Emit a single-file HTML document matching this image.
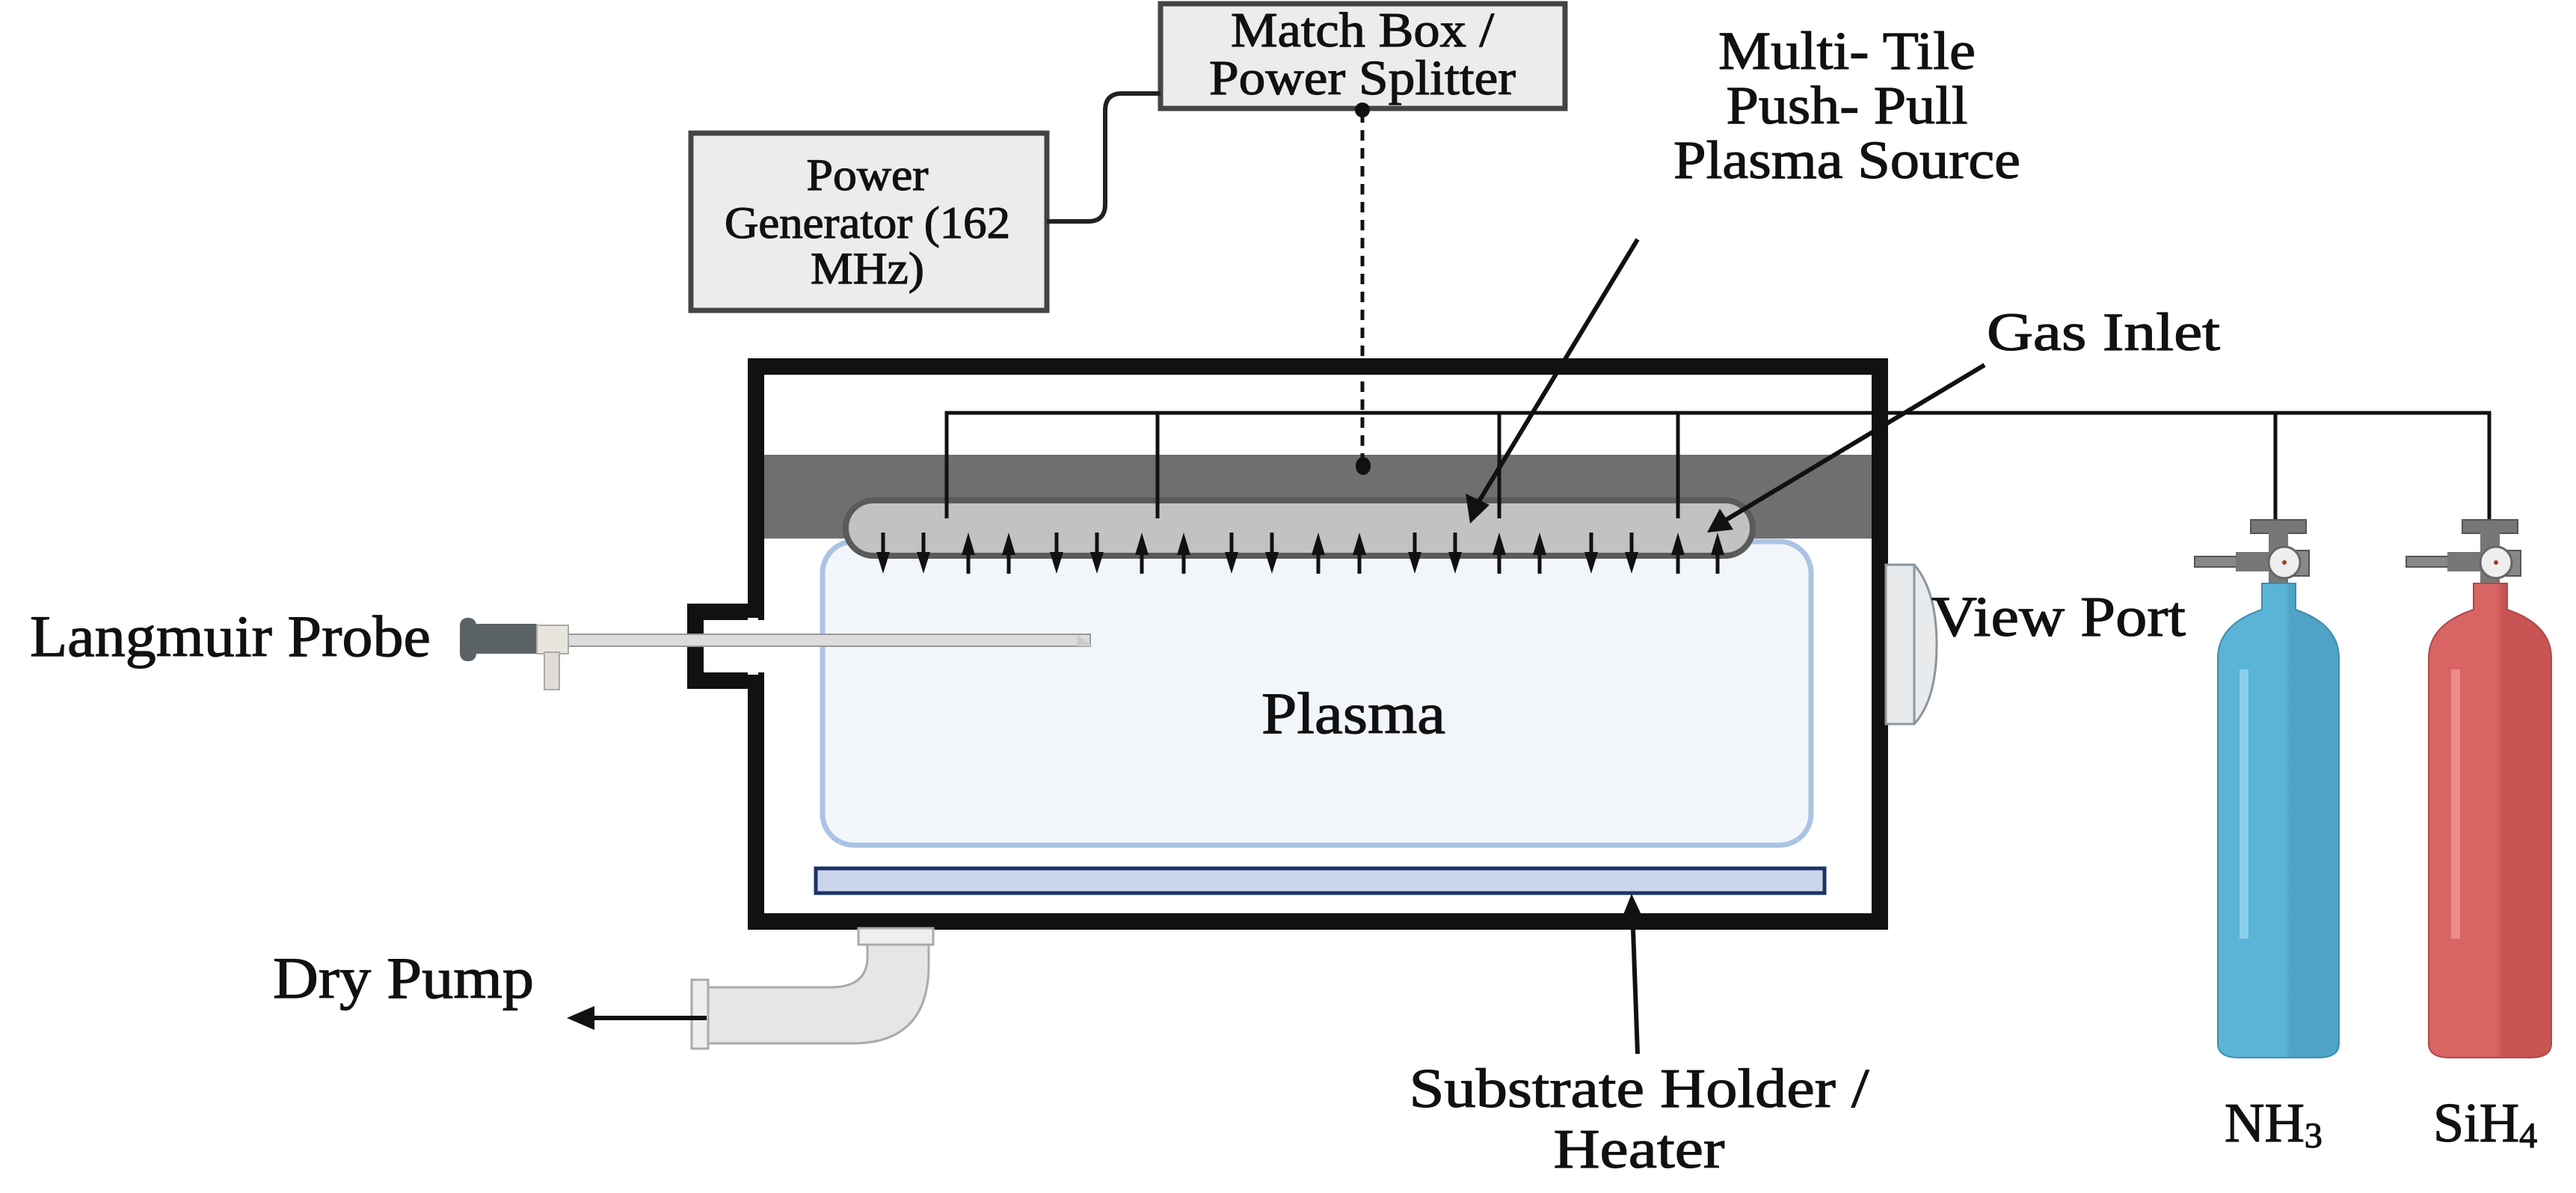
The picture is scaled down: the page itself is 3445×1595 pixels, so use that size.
<!DOCTYPE html>
<html><head><meta charset="utf-8"><style>
html,body{margin:0;padding:0;background:#fff}
svg{display:block}
text{font-family:"Liberation Serif",serif;fill:#111;stroke:#111;stroke-width:1.2}
</style></head><body>
<svg width="3445" height="1595" viewBox="0 0 3445 1595" xmlns="http://www.w3.org/2000/svg">
<defs>
<linearGradient id="blue" x1="0" x2="1"><stop offset="0" stop-color="#5ab4d6"/><stop offset="0.55" stop-color="#5ab4d6"/><stop offset="0.6" stop-color="#4fa3c4"/><stop offset="1" stop-color="#4fa3c4"/></linearGradient>
<linearGradient id="red" x1="0" x2="1"><stop offset="0" stop-color="#d96464"/><stop offset="0.55" stop-color="#d96464"/><stop offset="0.6" stop-color="#c85454"/><stop offset="1" stop-color="#c85454"/></linearGradient>
</defs>

<!-- boxes -->
<rect x="924" y="178" width="476" height="237" fill="#ececec" stroke="#444" stroke-width="7"/>
<rect x="1552" y="5" width="541" height="140" fill="#ececec" stroke="#444" stroke-width="7"/>
<path d="M1400,296 H1455 Q1478,296 1478,273 V148 Q1478,125 1500,125 H1552" fill="none" stroke="#222" stroke-width="6"/>
<text x="1160" y="254" font-size="60" text-anchor="middle" textLength="163" lengthAdjust="spacingAndGlyphs">Power</text>
<text x="1160" y="318" font-size="60" text-anchor="middle" textLength="382" lengthAdjust="spacingAndGlyphs">Generator (162</text>
<text x="1160" y="379" font-size="60" text-anchor="middle" textLength="152" lengthAdjust="spacingAndGlyphs">MHz)</text>
<text x="1822" y="62" font-size="66" text-anchor="middle" textLength="352" lengthAdjust="spacingAndGlyphs">Match Box /</text>
<text x="1822" y="126" font-size="66" text-anchor="middle" textLength="410" lengthAdjust="spacingAndGlyphs">Power Splitter</text>
<text x="2470" y="92" font-size="72" text-anchor="middle" textLength="344" lengthAdjust="spacingAndGlyphs">Multi- Tile</text>
<text x="2470" y="165" font-size="72" text-anchor="middle" textLength="323" lengthAdjust="spacingAndGlyphs">Push- Pull</text>
<text x="2470" y="238" font-size="72" text-anchor="middle" textLength="464" lengthAdjust="spacingAndGlyphs">Plasma Source</text>
<text x="2813" y="468" font-size="72" text-anchor="middle" textLength="312" lengthAdjust="spacingAndGlyphs">Gas Inlet</text>

<!-- chamber -->
<path d="M1011,490 H2514 V1232 H1011 V910 H930 V818 H1011 Z" fill="#fff" stroke="#111" stroke-width="22" stroke-linejoin="miter"/>
<rect x="1000" y="826" width="14" height="76" fill="#fff"/>
<rect x="1022" y="608" width="1481" height="112" fill="#6f6f6f"/>
<rect x="1100" y="724" width="1322" height="406" rx="42" fill="#f2f5fa" stroke="#abc3e3" stroke-width="7"/>
<rect x="1131" y="669" width="1213" height="74" rx="37" fill="#c2c2c2" stroke="#5a5a5a" stroke-width="8"/>
<rect x="1091" y="1161" width="1349" height="33" fill="#ccd6ea" stroke="#1c3366" stroke-width="5"/>

<!-- view port -->
<path d="M2522,755 H2560 Q2590,790 2590,862 Q2590,935 2560,968 H2522 Z" fill="#e9eaec" stroke="#8a96a0" stroke-width="3"/>
<line x1="2560" y1="755" x2="2560" y2="968" stroke="#8a96a0" stroke-width="3"/>
<text x="2583" y="850" font-size="76" textLength="340" lengthAdjust="spacingAndGlyphs">View Port</text>

<!-- gas line -->
<path d="M1266,693 V552 H3329 V697" fill="none" stroke="#111" stroke-width="5"/>
<path d="M1548,552 V693 M2005,552 V693 M2244,552 V693 M3043,552 V697" fill="none" stroke="#111" stroke-width="5"/>

<!-- dotted -->
<line x1="1822" y1="150" x2="1822" y2="615" stroke="#111" stroke-width="5" stroke-dasharray="14,10"/>
<circle cx="1822" cy="147" r="10" fill="#111"/>
<ellipse cx="1823" cy="623" rx="10" ry="12" fill="#111"/>

<!-- push-pull arrows -->
<g stroke="#111" stroke-width="5" fill="#111">
<line x1="1181" y1="712" x2="1181" y2="745"/><path d="M1172,738 L1190,738 L1181,767Z" stroke="none"/>
<line x1="1235" y1="712" x2="1235" y2="745"/><path d="M1226,738 L1244,738 L1235,767Z" stroke="none"/>
<line x1="1295" y1="735" x2="1295" y2="767"/><path d="M1286,742 L1304,742 L1295,712Z" stroke="none"/>
<line x1="1349" y1="735" x2="1349" y2="767"/><path d="M1340,742 L1358,742 L1349,712Z" stroke="none"/>
<line x1="1413" y1="712" x2="1413" y2="745"/><path d="M1404,738 L1422,738 L1413,767Z" stroke="none"/>
<line x1="1467" y1="712" x2="1467" y2="745"/><path d="M1458,738 L1476,738 L1467,767Z" stroke="none"/>
<line x1="1527" y1="735" x2="1527" y2="767"/><path d="M1518,742 L1536,742 L1527,712Z" stroke="none"/>
<line x1="1583" y1="735" x2="1583" y2="767"/><path d="M1574,742 L1592,742 L1583,712Z" stroke="none"/>
<line x1="1647" y1="712" x2="1647" y2="745"/><path d="M1638,738 L1656,738 L1647,767Z" stroke="none"/>
<line x1="1701" y1="712" x2="1701" y2="745"/><path d="M1692,738 L1710,738 L1701,767Z" stroke="none"/>
<line x1="1763" y1="735" x2="1763" y2="767"/><path d="M1754,742 L1772,742 L1763,712Z" stroke="none"/>
<line x1="1818" y1="735" x2="1818" y2="767"/><path d="M1809,742 L1827,742 L1818,712Z" stroke="none"/>
<line x1="1892" y1="712" x2="1892" y2="745"/><path d="M1883,738 L1901,738 L1892,767Z" stroke="none"/>
<line x1="1946" y1="712" x2="1946" y2="745"/><path d="M1937,738 L1955,738 L1946,767Z" stroke="none"/>
<line x1="2005" y1="735" x2="2005" y2="767"/><path d="M1996,742 L2014,742 L2005,712Z" stroke="none"/>
<line x1="2059" y1="735" x2="2059" y2="767"/><path d="M2050,742 L2068,742 L2059,712Z" stroke="none"/>
<line x1="2128" y1="712" x2="2128" y2="745"/><path d="M2119,738 L2137,738 L2128,767Z" stroke="none"/>
<line x1="2182" y1="712" x2="2182" y2="745"/><path d="M2173,738 L2191,738 L2182,767Z" stroke="none"/>
<line x1="2244" y1="735" x2="2244" y2="767"/><path d="M2235,742 L2253,742 L2244,712Z" stroke="none"/>
<line x1="2297" y1="735" x2="2297" y2="767"/><path d="M2288,742 L2306,742 L2297,712Z" stroke="none"/>
</g>

<!-- pointers -->
<g stroke="#111" stroke-width="6" fill="none">
<line x1="2190" y1="320" x2="1975" y2="675"/>
<line x1="2654" y1="488" x2="2300" y2="700"/>
<line x1="2190" y1="1409" x2="2183" y2="1215"/>
</g>
<path d="M1966,700 L1960,660 L1992,675 Z" fill="#111"/>
<path d="M2283,712 L2300,680 L2318,708 Z" fill="#111"/>
<path d="M2182,1195 L2170,1225 L2196,1225 Z" fill="#111"/>

<text x="1810" y="980" font-size="78" text-anchor="middle" textLength="246" lengthAdjust="spacingAndGlyphs">Plasma</text>

<!-- probe -->
<rect x="738" y="848" width="720" height="16" fill="#dcdcdc" stroke="#999" stroke-width="2"/>
<path d="M1440,848 L1462,864 L1440,864Z" fill="#ccc"/>
<rect x="615" y="826" width="22" height="58" rx="10" fill="#5b6265"/>
<rect x="632" y="834" width="90" height="40" rx="6" fill="#5b6265"/>
<rect x="718" y="836" width="42" height="38" fill="#e8e4de" stroke="#aaa" stroke-width="2"/>
<rect x="728" y="872" width="20" height="50" fill="#e0dcd6" stroke="#aaa" stroke-width="2"/>
<text x="40" y="877" font-size="78" textLength="536" lengthAdjust="spacingAndGlyphs">Langmuir Probe</text>

<!-- pump pipe -->
<path d="M1152,1250 H1242 V1290 Q1242,1395 1140,1395 H945 V1320 H1110 Q1160,1320 1160,1280 V1250 Z" fill="#e6e6e6" stroke="#aaa" stroke-width="3"/>
<rect x="1148" y="1241" width="100" height="22" fill="#eee" stroke="#aaa" stroke-width="3"/>
<rect x="925" y="1310" width="22" height="92" fill="#eee" stroke="#aaa" stroke-width="3"/>
<line x1="945" y1="1361" x2="790" y2="1361" stroke="#111" stroke-width="6"/>
<path d="M758,1361 L795,1345 L795,1377Z" fill="#111"/>
<text x="365" y="1334" font-size="78" textLength="349" lengthAdjust="spacingAndGlyphs">Dry Pump</text>

<text x="2192" y="1480" font-size="74" text-anchor="middle" textLength="615" lengthAdjust="spacingAndGlyphs">Substrate Holder /</text>
<text x="2192" y="1561" font-size="74" text-anchor="middle" textLength="229" lengthAdjust="spacingAndGlyphs">Heater</text>

<!-- cylinders -->
<g>
<rect x="3010" y="695" width="74" height="18" fill="#777" stroke="#555" stroke-width="2"/>
<rect x="3034" y="712" width="26" height="70" fill="#777"/>
<rect x="2935" y="744" width="100" height="14" fill="#888" stroke="#555" stroke-width="2"/>
<rect x="2990" y="738" width="45" height="26" fill="#777"/>
<rect x="3060" y="736" width="28" height="34" fill="#888" stroke="#555" stroke-width="2"/>
<circle cx="3055" cy="752" r="21" fill="#eee" stroke="#666" stroke-width="3"/>
<circle cx="3055" cy="752" r="3" fill="#a04020"/>
<path d="M3025,780 H3070 V815 Q3128,835 3128,880 V1395 Q3128,1414 3100,1414 H2994 Q2966,1414 2966,1395 V880 Q2966,835 3025,815 Z" fill="url(#blue)" stroke="#3f8db0" stroke-width="2"/>
<rect x="2995" y="895" width="12" height="360" fill="#8ad0ea"/>
</g>
<g>
<rect x="3293" y="695" width="74" height="18" fill="#777" stroke="#555" stroke-width="2"/>
<rect x="3317" y="712" width="26" height="70" fill="#777"/>
<rect x="3218" y="744" width="100" height="14" fill="#888" stroke="#555" stroke-width="2"/>
<rect x="3273" y="738" width="45" height="26" fill="#777"/>
<rect x="3343" y="736" width="28" height="34" fill="#888" stroke="#555" stroke-width="2"/>
<circle cx="3338" cy="752" r="21" fill="#eee" stroke="#666" stroke-width="3"/>
<circle cx="3338" cy="752" r="3" fill="#a04020"/>
<path d="M3308,780 H3353 V815 Q3412,835 3412,880 V1395 Q3412,1414 3384,1414 H3276 Q3248,1414 3248,1395 V880 Q3248,835 3308,815 Z" fill="url(#red)" stroke="#b04848" stroke-width="2"/>
<rect x="3278" y="895" width="12" height="360" fill="#ec8c8c"/>
</g>
<text x="2975" y="1526" font-size="74">NH<tspan font-size="48" dy="8">3</tspan></text>
<text x="3254" y="1526" font-size="74">SiH<tspan font-size="48" dy="8">4</tspan></text>
</svg>
</body></html>
